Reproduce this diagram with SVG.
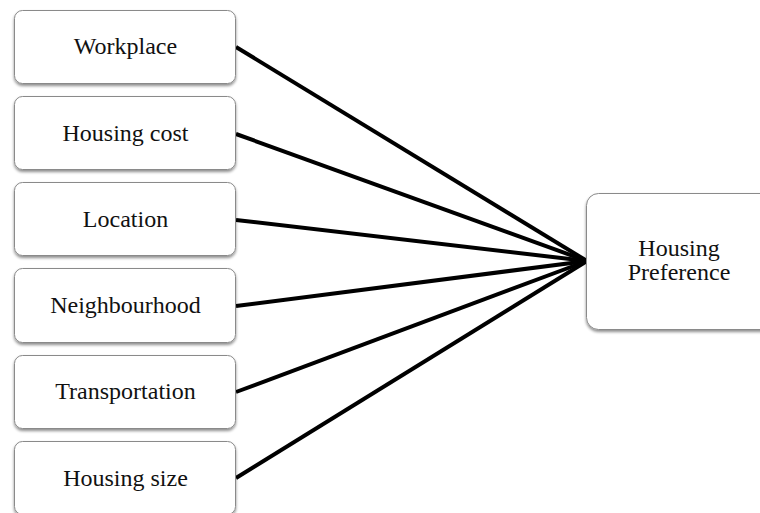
<svg xmlns="http://www.w3.org/2000/svg" width="760" height="513" viewBox="0 0 760 513">
<defs>
<filter id="sh" x="-10%" y="-10%" width="130%" height="130%">
<feGaussianBlur in="SourceAlpha" stdDeviation="1.5"/>
<feOffset dx="0" dy="2" result="b"/>
<feComponentTransfer><feFuncA type="linear" slope="0.45"/></feComponentTransfer>
<feMerge><feMergeNode/><feMergeNode in="SourceGraphic"/></feMerge>
</filter>
</defs>
<style>
.box{fill:#fff;stroke:#8a8a8a;stroke-width:1;filter:url(#sh)}
.t{font-family:"Liberation Serif","Times New Roman",serif;font-size:24px;fill:#111;text-anchor:middle}
.c{stroke:#000;stroke-width:4;fill:none}
</style>
<rect width="760" height="513" fill="#fff"/>
<g id="connectors">
<line class="c" x1="236" y1="47" x2="587" y2="261"/>
<line class="c" x1="236" y1="134" x2="587" y2="261"/>
<line class="c" x1="236" y1="220" x2="587" y2="261"/>
<line class="c" x1="236" y1="306" x2="587" y2="261"/>
<line class="c" x1="236" y1="392" x2="587" y2="261"/>
<line class="c" x1="236" y1="478" x2="587" y2="261"/>
</g>
<g id="workplace"><rect class="box" x="14.5" y="10.5" width="221" height="73" rx="8"/><text class="t" x="125.5" y="54">Workplace</text></g>
<g id="housing-cost"><rect class="box" x="14.5" y="96.5" width="221" height="73" rx="8"/><text class="t" x="125.5" y="141">Housing cost</text></g>
<g id="location"><rect class="box" x="14.5" y="182.5" width="221" height="73" rx="8"/><text class="t" x="125.5" y="227">Location</text></g>
<g id="neighbourhood"><rect class="box" x="14.5" y="268.5" width="221" height="74" rx="8"/><text class="t" x="125.5" y="313">Neighbourhood</text></g>
<g id="transportation"><rect class="box" x="14.5" y="355.5" width="221" height="73" rx="8"/><text class="t" x="125.5" y="399">Transportation</text></g>
<g id="housing-size"><rect class="box" x="14.5" y="441.5" width="221" height="73" rx="8"/><text class="t" x="125.5" y="486">Housing size</text></g>
<g id="housing-preference"><rect class="box" x="586.5" y="193.5" width="190" height="136" rx="12"/><text class="t" x="679" y="256">Housing</text><text class="t" x="679" y="280">Preference</text></g>
</svg>
